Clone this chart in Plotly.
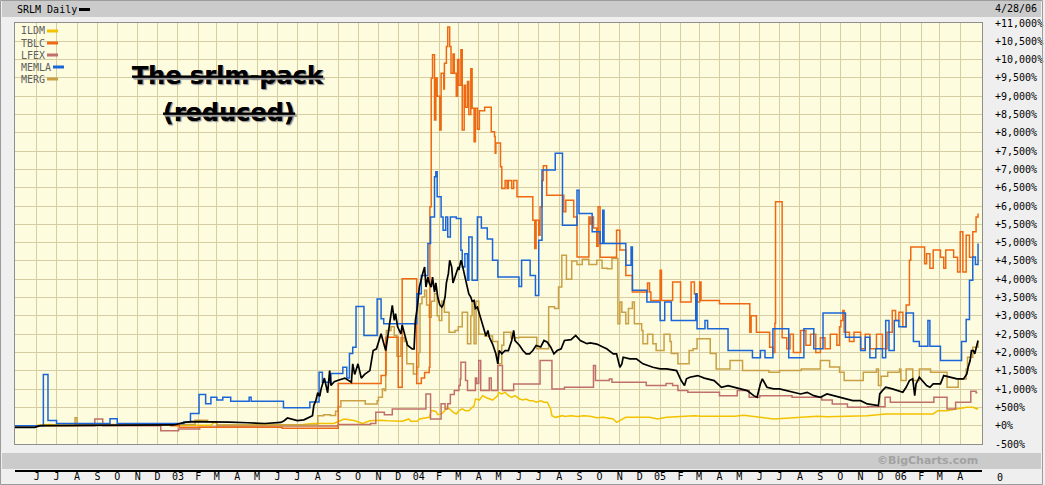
"""SRLM daily 4-year percent-change chart, BigCharts style."""

import pandas as pd
import plotly.graph_objects as go

# ---- data (percent change) ----
SRLM = [
    ("2002-04-29", -45), ("2002-05-29", -45), ("2002-06-06", 0), ("2002-12-04", 0),
    ("2002-12-26", 20), ("2003-01-01", 46), ("2003-01-11", 90), ("2003-01-21", 110),
    ("2003-02-25", 110), ("2003-03-20", 100), ("2003-04-17", 80), ("2003-05-13", 60),
    ("2003-06-06", 90), ("2003-06-11", 137), ("2003-06-16", 210), ("2003-07-01", 137),
    ("2003-07-11", 160), ("2003-07-19", 230), ("2003-07-24", 274), ("2003-07-26", 550),
    ("2003-07-29", 684), ("2003-08-01", 900), ("2003-08-04", 800), ("2003-08-06", 1000),
    ("2003-08-11", 1300), ("2003-08-16", 900), ("2003-08-19", 1506), ("2003-08-21", 1100),
    ("2003-08-26", 1200), ("2003-09-01", 1240), ("2003-09-11", 1300), ("2003-09-21", 1186),
    ("2003-09-23", 1689), ("2003-09-26", 1400), ("2003-10-01", 1689), ("2003-10-06", 1300),
    ("2003-10-11", 1400), ("2003-10-19", 1506), ("2003-10-24", 2053), ("2003-10-29", 2100),
    ("2003-11-05", 2510), ("2003-11-12", 2053), ("2003-11-17", 2700), ("2003-11-22", 3286),
    ("2003-11-25", 2875), ("2003-11-27", 3058), ("2003-11-30", 2700), ("2003-12-05", 2510),
    ("2003-12-07", 2750), ("2003-12-10", 2510), ("2003-12-15", 2200), ("2003-12-22", 2100),
    ("2003-12-25", 2100), ("2003-12-27", 2875), ("2003-12-30", 3240), ("2004-01-02", 3787),
    ("2004-01-05", 4061), ("2004-01-07", 4153), ("2004-01-10", 4335), ("2004-01-12", 3787),
    ("2004-01-15", 4061), ("2004-01-17", 3900), ("2004-01-20", 3787), ("2004-01-22", 4061),
    ("2004-01-25", 3650), ("2004-01-27", 3900), ("2004-01-30", 3500), ("2004-02-02", 3300),
    ("2004-02-05", 3240), ("2004-02-07", 3300), ("2004-02-10", 3514), ("2004-02-12", 3900),
    ("2004-02-15", 4153), ("2004-02-17", 4518), ("2004-02-20", 4335), ("2004-02-22", 3900),
    ("2004-02-25", 4061), ("2004-02-27", 4153), ("2004-03-01", 4335), ("2004-03-02", 4250),
    ("2004-03-05", 4518), ("2004-03-07", 4400), ("2004-03-10", 4153), ("2004-03-12", 4061),
    ("2004-03-15", 3787), ("2004-03-17", 3600), ("2004-03-20", 3514), ("2004-03-22", 3400),
    ("2004-03-25", 3420), ("2004-03-27", 3200), ("2004-03-30", 3240), ("2004-04-02", 3058),
    ("2004-04-04", 2950), ("2004-04-07", 2800), ("2004-04-10", 2555), ("2004-04-12", 2450),
    ("2004-04-15", 2600), ("2004-04-17", 2420), ("2004-04-22", 2230), ("2004-04-25", 2100),
    ("2004-04-27", 1963), ("2004-04-30", 1689), ("2004-05-02", 2053), ("2004-05-06", 1963),
    ("2004-05-11", 2053), ("2004-05-16", 2053), ("2004-05-21", 2327), ("2004-05-24", 2601),
    ("2004-05-26", 2327), ("2004-06-02", 2190), ("2004-06-07", 2053), ("2004-06-12", 1963),
    ("2004-06-17", 1963), ("2004-06-22", 2053), ("2004-06-27", 2190), ("2004-07-04", 2150),
    ("2004-07-09", 2327), ("2004-07-14", 2280), ("2004-07-19", 2150), ("2004-07-24", 1963),
    ("2004-07-29", 2053), ("2004-08-04", 2100), ("2004-08-09", 2327), ("2004-08-19", 2350),
    ("2004-08-24", 2418), ("2004-08-26", 2464), ("2004-09-02", 2327), ("2004-09-12", 2240),
    ("2004-09-17", 2260), ("2004-09-27", 2230), ("2004-10-07", 2145), ("2004-10-12", 2100),
    ("2004-10-22", 1963), ("2004-10-27", 1963), ("2004-11-01", 1597), ("2004-11-04", 1689),
    ("2004-11-06", 1870), ("2004-11-16", 1826), ("2004-11-26", 1826), ("2004-12-06", 1689),
    ("2004-12-21", 1597), ("2005-01-01", 1552), ("2005-01-11", 1552), ("2005-01-26", 1506),
    ("2005-02-02", 1232), ("2005-02-07", 1095), ("2005-02-10", 1280), ("2005-02-15", 1323),
    ("2005-02-27", 1369), ("2005-03-09", 1300), ("2005-03-24", 1232), ("2005-04-04", 1050),
    ("2005-04-14", 1095), ("2005-04-24", 1050), ("2005-05-13", 958), ("2005-05-23", 821),
    ("2005-05-28", 775), ("2005-06-02", 1141), ("2005-06-05", 1278), ("2005-06-12", 1050),
    ("2005-06-22", 1004), ("2005-07-01", 1004), ("2005-07-11", 958), ("2005-07-21", 912),
    ("2005-08-02", 867), ("2005-08-12", 912), ("2005-08-22", 821), ("2005-09-01", 775),
    ("2005-09-11", 867), ("2005-09-21", 821), ("2005-09-30", 775), ("2005-10-10", 730),
    ("2005-10-20", 684), ("2005-11-01", 684), ("2005-11-11", 594), ("2005-11-28", 548),
    ("2005-11-30", 867), ("2005-12-04", 958), ("2005-12-09", 1050), ("2005-12-19", 1004),
    ("2005-12-29", 958), ("2006-01-04", 912), ("2006-01-09", 1050), ("2006-01-14", 1232),
    ("2006-01-19", 1278), ("2006-01-22", 821), ("2006-01-24", 1141), ("2006-01-29", 1323),
    ("2006-02-09", 1095), ("2006-02-14", 1050), ("2006-02-19", 1141), ("2006-03-02", 1141),
    ("2006-03-07", 1369), ("2006-03-17", 1323), ("2006-03-27", 1278), ("2006-04-06", 1278),
    ("2006-04-11", 1415), ("2006-04-13", 1597), ("2006-04-16", 1780), ("2006-04-18", 2053),
    ("2006-04-21", 2053), ("2006-04-23", 1963), ("2006-04-26", 2145), ("2006-04-28", 2327),
]

ILDM = [
    ("2002-04-29", -45), ("2002-05-28", -45), ("2002-06-01", 10), ("2002-06-20", 30),
    ("2002-07-05", 10), ("2003-02-20", 10), ("2003-02-26", 100), ("2003-03-03", 10),
    ("2003-07-10", 30), ("2003-07-25", 63), ("2003-08-25", 63), ("2003-09-01", 118),
    ("2003-09-10", 183), ("2003-09-25", 140), ("2003-10-08", 63), ("2003-10-19", 137),
    ("2003-11-05", 150), ("2003-11-15", 137), ("2003-11-25", 137), ("2003-12-07", 120),
    ("2003-12-17", 183), ("2003-12-20", 120), ("2003-12-30", 120), ("2004-01-02", 183),
    ("2004-01-17", 228), ("2004-01-20", 420), ("2004-01-27", 390), ("2004-01-30", 300),
    ("2004-02-05", 330), ("2004-02-10", 420), ("2004-02-12", 502), ("2004-02-17", 460),
    ("2004-02-22", 370), ("2004-02-27", 320), ("2004-03-02", 410), ("2004-03-07", 460),
    ("2004-03-12", 410), ("2004-03-17", 410), ("2004-03-25", 550), ("2004-03-27", 730),
    ("2004-04-02", 700), ("2004-04-07", 821), ("2004-04-12", 770), ("2004-04-17", 730),
    ("2004-04-22", 700), ("2004-04-30", 821), ("2004-05-01", 912), ("2004-05-06", 870),
    ("2004-05-11", 912), ("2004-05-16", 821), ("2004-05-21", 775), ("2004-05-26", 821),
    ("2004-06-02", 730), ("2004-06-07", 700), ("2004-06-12", 730), ("2004-06-17", 684),
    ("2004-06-22", 684), ("2004-06-27", 640), ("2004-07-04", 680), ("2004-07-09", 640),
    ("2004-07-14", 640), ("2004-07-19", 456), ("2004-07-21", 274), ("2004-07-26", 228),
    ("2004-08-01", 250), ("2004-08-06", 274), ("2004-08-09", 250), ("2004-08-19", 270),
    ("2004-08-29", 250), ("2004-09-07", 270), ("2004-09-17", 260), ("2004-09-27", 220),
    ("2004-10-07", 228), ("2004-10-17", 200), ("2004-10-22", 183), ("2004-10-27", 90),
    ("2004-11-01", 137), ("2004-11-10", 228), ("2004-12-16", 228), ("2004-12-28", 183),
    ("2005-01-11", 228), ("2005-02-07", 246), ("2005-02-22", 274), ("2005-03-04", 260),
    ("2005-04-24", 260), ("2005-05-08", 283), ("2005-05-23", 246), ("2005-06-07", 210),
    ("2005-06-22", 183), ("2005-07-11", 200), ("2005-08-02", 228), ("2005-08-27", 260),
    ("2005-09-11", 246), ("2005-10-10", 260), ("2005-11-01", 250), ("2005-11-11", 274),
    ("2005-12-09", 320), ("2006-01-19", 330), ("2006-02-19", 320), ("2006-02-26", 411),
    ("2006-03-12", 411), ("2006-03-22", 440), ("2006-04-01", 470), ("2006-04-11", 502),
    ("2006-04-21", 502), ("2006-04-26", 456), ("2006-04-28", 484),
]

TBLC = [
    ("2002-12-20", 0), ("2003-01-03", -40), ("2003-06-08", -70), ("2003-09-01", 1150),
    ("2003-11-05", 1369), ("2003-11-12", 2418), ("2003-12-01", 1050), ("2003-12-07", 4017),
    ("2003-12-29", 1150), ("2004-01-05", 1300), ("2004-01-10", 1450), ("2004-01-17", 1597),
    ("2004-01-18", 5978), ("2004-01-20", 9493), ("2004-01-22", 10131), ("2004-01-25", 8351),
    ("2004-01-27", 9500), ("2004-01-29", 9000), ("2004-02-02", 8077), ("2004-02-04", 9630),
    ("2004-02-08", 9200), ("2004-02-09", 9900), ("2004-02-12", 10358), ("2004-02-14", 10889),
    ("2004-02-17", 10358), ("2004-02-19", 9630), ("2004-02-22", 10150), ("2004-02-24", 9630),
    ("2004-02-27", 9000), ("2004-02-29", 10000), ("2004-03-02", 9300), ("2004-03-05", 10268),
    ("2004-03-07", 8077), ("2004-03-10", 9300), ("2004-03-12", 8700), ("2004-03-15", 9400),
    ("2004-03-17", 8500), ("2004-03-20", 9750), ("2004-03-22", 8671), ("2004-03-25", 7757),
    ("2004-03-27", 8671), ("2004-03-30", 8100), ("2004-04-02", 8600), ("2004-04-10", 8698),
    ("2004-04-20", 8031), ("2004-04-25", 7900), ("2004-04-26", 7439), ("2004-04-27", 7721),
    ("2004-05-04", 7072), ("2004-05-06", 6481), ("2004-05-11", 6700), ("2004-05-14", 6481),
    ("2004-05-16", 6700), ("2004-05-21", 6481), ("2004-05-24", 6700), ("2004-05-29", 6251),
    ("2004-06-22", 5613), ("2004-06-25", 4838), ("2004-06-27", 5613), ("2004-07-01", 5200),
    ("2004-07-03", 5978), ("2004-07-06", 6700), ("2004-07-08", 7100), ("2004-07-13", 6297),
    ("2004-08-08", 5841), ("2004-08-11", 6160), ("2004-08-23", 5700), ("2004-08-28", 4609),
    ("2004-09-15", 5703), ("2004-09-17", 5500), ("2004-09-20", 5703), ("2004-09-22", 5400),
    ("2004-09-27", 4900), ("2004-09-29", 5978), ("2004-10-02", 4600), ("2004-10-27", 5339),
    ("2004-11-01", 4800), ("2004-11-10", 4100), ("2004-11-20", 3650), ("2004-12-13", 3900),
    ("2004-12-16", 3650), ("2004-12-18", 3423), ("2005-01-01", 4244), ("2005-01-03", 3423),
    ("2005-01-20", 3924), ("2005-02-01", 3380), ("2005-02-17", 3924), ("2005-02-22", 3600),
    ("2005-02-26", 3380), ("2005-03-02", 3924), ("2005-03-04", 3423), ("2005-04-01", 3332),
    ("2005-05-17", 2555), ("2005-05-19", 3000), ("2005-05-27", 2555), ("2005-06-16", 2144),
    ("2005-06-21", 2000), ("2005-06-24", 2800), ("2005-06-25", 6114), ("2005-07-05", 2400),
    ("2005-07-12", 2100), ("2005-07-17", 2500), ("2005-07-22", 2000), ("2005-08-02", 2600),
    ("2005-08-10", 2200), ("2005-08-17", 2500), ("2005-08-25", 2000), ("2005-09-01", 2400),
    ("2005-09-08", 2100), ("2005-09-16", 2500), ("2005-09-26", 2200), ("2005-09-30", 2700),
    ("2005-10-02", 2875), ("2005-10-05", 3149), ("2005-10-07", 2555), ("2005-10-15", 2300),
    ("2005-10-22", 2555), ("2005-11-01", 2100), ("2005-11-08", 2500), ("2005-11-15", 2100),
    ("2005-11-25", 2500), ("2005-12-04", 2100), ("2005-12-11", 2555), ("2005-12-19", 3149),
    ("2005-12-24", 2875), ("2005-12-29", 3100), ("2006-01-04", 2700), ("2006-01-09", 3300),
    ("2006-01-14", 4518), ("2006-01-16", 4883), ("2006-02-06", 4427), ("2006-02-09", 4700),
    ("2006-02-14", 4300), ("2006-02-19", 4800), ("2006-03-02", 4600), ("2006-03-07", 4300),
    ("2006-03-10", 4800), ("2006-03-22", 4600), ("2006-03-28", 4200), ("2006-04-01", 5300),
    ("2006-04-05", 4200), ("2006-04-10", 5202), ("2006-04-15", 4600), ("2006-04-20", 5300),
    ("2006-04-25", 5703), ("2006-04-28", 5796),
]

LFEX = [
    ("2002-04-29", 0), ("2002-08-28", 183), ("2002-09-09", 0), ("2002-12-06", -137),
    ("2003-01-02", -90), ("2003-02-03", -40), ("2003-03-01", -10), ("2003-09-01", 30),
    ("2003-10-20", 60), ("2003-10-28", 365), ("2003-11-10", 300), ("2003-11-22", 456),
    ("2004-01-12", 867), ("2004-01-19", 183), ("2004-02-04", 600), ("2004-02-10", 456),
    ("2004-02-14", 600), ("2004-02-18", 850), ("2004-02-24", 958), ("2004-03-02", 1100),
    ("2004-03-04", 1278), ("2004-03-05", 1734), ("2004-03-12", 1232), ("2004-03-15", 958),
    ("2004-03-27", 1300), ("2004-03-29", 1150), ("2004-04-01", 1780), ("2004-04-04", 958),
    ("2004-04-17", 1300), ("2004-04-20", 958), ("2004-04-30", 1643), ("2004-05-07", 958),
    ("2004-05-24", 1141), ("2004-07-03", 1780), ("2004-07-21", 1004), ("2004-08-09", 1050),
    ("2004-09-22", 1643), ("2004-09-25", 1232), ("2004-10-16", 1278), ("2004-10-20", 1186),
    ("2004-12-11", 1095), ("2005-01-10", 1150), ("2005-01-20", 1095), ("2005-01-28", 958),
    ("2005-02-12", 912), ("2005-04-01", 821), ("2005-04-28", 958), ("2005-05-16", 775),
    ("2005-06-01", 821), ("2005-07-20", 775), ("2005-09-03", 700), ("2005-09-19", 594),
    ("2005-10-12", 502), ("2005-11-12", 520), ("2005-12-08", 775), ("2005-12-16", 639),
    ("2006-02-20", 775), ("2006-03-12", 456), ("2006-03-25", 639), ("2006-04-17", 940),
    ("2006-04-25", 900), ("2006-04-27", 900),
]

MEMLA = [
    ("2002-04-29", 0), ("2002-06-11", 1400), ("2002-06-18", 140), ("2002-07-01", 60),
    ("2002-09-20", 190), ("2002-10-01", 60), ("2003-01-10", 100), ("2003-01-20", 330),
    ("2003-02-02", 850), ("2003-02-12", 600), ("2003-02-20", 780), ("2003-03-01", 700),
    ("2003-03-10", 775), ("2003-03-22", 666), ("2003-04-19", 775), ("2003-04-22", 666),
    ("2003-06-10", 493), ("2003-07-20", 650), ("2003-08-03", 1460), ("2003-08-08", 1186),
    ("2003-08-21", 1423), ("2003-09-08", 1597), ("2003-09-14", 1300), ("2003-09-18", 1970),
    ("2003-09-23", 2145), ("2003-09-28", 3258), ("2003-10-10", 2464), ("2003-10-30", 3459),
    ("2003-11-05", 2920), ("2003-11-09", 2784), ("2003-12-29", 3605), ("2004-01-05", 4100),
    ("2004-01-15", 4975), ("2004-01-19", 5703), ("2004-01-25", 6800), ("2004-01-27", 6936),
    ("2004-01-29", 6251), ("2004-02-04", 5703), ("2004-02-07", 5339), ("2004-02-11", 5703),
    ("2004-02-14", 5157), ("2004-02-18", 5703), ("2004-02-27", 5659), ("2004-03-05", 4791),
    ("2004-03-07", 4335), ("2004-03-11", 4700), ("2004-03-15", 3970), ("2004-03-17", 5157),
    ("2004-03-22", 3970), ("2004-03-30", 5703), ("2004-04-05", 5400), ("2004-04-14", 5100),
    ("2004-04-22", 4518), ("2004-04-30", 4061), ("2004-06-01", 3800), ("2004-06-05", 4518),
    ("2004-06-18", 4100), ("2004-06-26", 3559), ("2004-07-01", 5065), ("2004-07-06", 6982),
    ("2004-07-26", 7439), ("2004-08-06", 5476), ("2004-08-28", 6434), ("2004-08-31", 5796),
    ("2004-09-20", 5300), ("2004-10-02", 4975), ("2004-10-06", 5887), ("2004-10-08", 4975),
    ("2004-11-10", 4381), ("2004-11-18", 4883), ("2004-11-20", 3697), ("2004-12-12", 3377),
    ("2005-01-01", 2875), ("2005-01-08", 3377), ("2005-01-18", 2875), ("2005-02-24", 3605),
    ("2005-02-26", 2647), ("2005-03-10", 2875), ("2005-03-14", 2647), ("2005-04-14", 2053),
    ("2005-05-21", 1853), ("2005-06-02", 2053), ("2005-06-09", 1853), ("2005-06-21", 2647),
    ("2005-07-15", 1853), ("2005-08-07", 2647), ("2005-08-22", 2100), ("2005-09-05", 3075),
    ("2005-10-09", 2418), ("2005-11-01", 2053), ("2005-11-08", 2418), ("2005-11-15", 1853),
    ("2005-11-24", 2100), ("2005-12-04", 1853), ("2005-12-09", 2875), ("2005-12-14", 2053),
    ("2005-12-22", 2875), ("2005-12-29", 2700), ("2006-01-09", 3075), ("2006-01-20", 2300),
    ("2006-01-29", 2170), ("2006-02-11", 2875), ("2006-02-14", 2170), ("2006-03-02", 1780),
    ("2006-04-03", 2300), ("2006-04-10", 2900), ("2006-04-15", 3970), ("2006-04-20", 4609),
    ("2006-04-24", 4400), ("2006-04-28", 4975),
]

MERG = [
    ("2002-04-29", 0), ("2002-07-29", 220), ("2002-08-01", 30), ("2003-01-27", 150),
    ("2003-02-15", 100), ("2003-03-01", 20), ("2003-08-01", 274), ("2003-08-10", 300),
    ("2003-08-20", 280), ("2003-08-28", 392), ("2003-09-01", 520), ("2003-09-05", 684),
    ("2003-10-12", 594), ("2003-10-30", 684), ("2003-11-01", 775), ("2003-11-07", 1004),
    ("2003-11-10", 958), ("2003-11-12", 1415), ("2003-11-13", 2601), ("2003-11-20", 2700),
    ("2003-11-25", 2464), ("2003-11-29", 1900), ("2003-12-05", 2400), ("2003-12-10", 2300),
    ("2003-12-14", 1689), ("2003-12-24", 1415), ("2003-12-29", 1600), ("2004-01-01", 2000),
    ("2004-01-03", 3332), ("2004-01-06", 3514), ("2004-01-10", 3700), ("2004-01-13", 3300),
    ("2004-01-17", 2965), ("2004-01-20", 3400), ("2004-01-25", 3605), ("2004-01-29", 3000),
    ("2004-02-01", 2875), ("2004-02-05", 3400), ("2004-02-09", 3100), ("2004-02-16", 2555),
    ("2004-02-25", 2600), ("2004-03-01", 2700), ("2004-03-07", 3100), ("2004-03-15", 2237),
    ("2004-03-20", 3000), ("2004-03-22", 3377), ("2004-03-25", 2237), ("2004-03-28", 3400),
    ("2004-04-01", 2500), ("2004-04-10", 2450), ("2004-04-22", 2300), ("2004-04-30", 1689),
    ("2004-05-06", 2200), ("2004-05-09", 2555), ("2004-05-20", 2400), ("2004-06-01", 2418),
    ("2004-06-28", 2100), ("2004-07-16", 3250), ("2004-07-25", 3200), ("2004-07-31", 3787),
    ("2004-08-05", 4655), ("2004-08-12", 4000), ("2004-08-20", 4500), ("2004-08-28", 4400),
    ("2004-09-05", 4550), ("2004-09-15", 4400), ("2004-09-27", 4518), ("2004-10-05", 4300),
    ("2004-10-13", 4290), ("2004-10-20", 4564), ("2004-10-29", 2784), ("2004-11-01", 3377),
    ("2004-11-04", 3100), ("2004-11-10", 2784), ("2004-11-14", 3200), ("2004-11-20", 3377),
    ("2004-11-23", 2784), ("2004-12-04", 2601), ("2004-12-06", 2237), ("2004-12-13", 2500),
    ("2004-12-21", 2237), ("2004-12-26", 2053), ("2005-01-07", 2500), ("2005-01-16", 2300),
    ("2005-01-18", 1970), ("2005-01-28", 1689), ("2005-02-14", 2053), ("2005-02-20", 2100),
    ("2005-02-26", 2373), ("2005-03-18", 1970), ("2005-03-27", 1552), ("2005-04-17", 1780),
    ("2005-05-06", 1506), ("2005-06-15", 1460), ("2005-07-01", 1506), ("2005-08-03", 1552),
    ("2005-09-01", 1780), ("2005-09-15", 1600), ("2005-09-30", 1460), ("2005-10-07", 1232),
    ("2005-11-05", 1460), ("2005-11-25", 1552), ("2005-11-28", 1095), ("2005-12-02", 1350),
    ("2005-12-12", 1460), ("2005-12-30", 1552), ("2006-01-01", 1232), ("2006-01-09", 1552),
    ("2006-01-19", 1232), ("2006-01-29", 1552), ("2006-02-15", 1460), ("2006-03-12", 1050),
    ("2006-03-29", 1278), ("2006-04-10", 1552), ("2006-04-12", 1870), ("2006-04-20", 2145),
    ("2006-04-28", 2300),
]

X_TICK_LABELS = [
    "J", "J", "A", "S", "O", "N", "D",
    "03", "F", "M", "A", "M", "J", "J", "A", "S", "O", "N", "D",
    "04", "F", "M", "A", "M", "J", "J", "A", "S", "O", "N", "D",
    "05", "F", "M", "A", "M", "J", "J", "A", "S", "O", "N", "D",
    "06", "F", "M", "A",
]
Y_TICK_LABELS = [
    "-500%", "+0%", "+500%", "+1,000%", "+1,500%", "+2,000%", "+2,500%", "+3,000%",
    "+3,500%", "+4,000%", "+4,500%", "+5,000%", "+5,500%", "+6,000%", "+6,500%",
    "+7,000%", "+7,500%", "+8,000%", "+8,500%", "+9,000%", "+9,500%", "+10,000%",
    "+10,500%", "+11,000%",
]

# ---- styling ----
W, H = 1045, 485
ML, MR, MT, MB = 15, 63, 23, 41
PW, PH = W - ML - MR, H - MT - MB
MONO = "DejaVu Sans Mono"
PAPER = "#efefef"
BAND = "#cbcbcb"
PLOT_BG = "#fefcdf"
GRID = "#d6cea2"

# name, data, colour, shape (drawn bottom to top)
SERIES = [
    ("ILDM", ILDM, "#f2c200", "linear"),
    ("LFEX", LFEX, "#c0706a", "hv"),
    ("MERG", MERG, "#c9a043", "hv"),
    ("TBLC", TBLC, "#ee6a12", "hv"),
    ("MEMLA", MEMLA, "#1a66d8", "hv"),
    ("SRLM", SRLM, "#000000", "linear"),
]
LEGEND = [("ILDM", "#f2c200", 58), ("TBLC", "#ee6a12", 58), ("LFEX", "#c0706a", 58),
          ("MEMLA", "#1a66d8", 64), ("MERG", "#c9a043", 58)]


def px(x):
    return (x - ML) / PW


def py(y):
    return (H - MB - y) / PH


fig = go.Figure()
for name, data, color, shape in SERIES:
    dates = [d for d, _ in data]
    vals = [v for _, v in data]
    fig.add_trace(
        go.Scatter(
            x=dates, y=vals, mode="lines", name=name,
            line={"color": color, "width": 1.7 if name == "SRLM" else 1.5, "shape": shape},
            showlegend=False, hoverinfo="skip",
        )
    )

shapes = [
    # header band and footer band
    dict(type="rect", xref="paper", yref="paper", x0=px(2), x1=px(1041), y0=py(17), y1=py(0),
         fillcolor=BAND, line={"width": 0}),
    dict(type="rect", xref="paper", yref="paper", x0=px(2), x1=px(1041), y0=py(469), y1=py(453),
         fillcolor=BAND, line={"width": 0}),
    dict(type="line", xref="paper", yref="paper", x0=0, x1=1, y0=py(471), y1=py(471),
         line={"color": "#000000", "width": 2}),
    dict(type="rect", xref="paper", yref="paper", x0=px(0.5), x1=px(1042.5), y0=py(484.5), y1=py(0.5),
         line={"color": "#9c9c9c", "width": 1}),
    # SRLM swatch in header
    dict(type="line", xref="paper", yref="paper", x0=px(79), x1=px(90), y0=py(9.5), y1=py(9.5),
         line={"color": "#000000", "width": 3}),
]
annotations = [
    dict(text="SRLM Daily", x=px(15), y=py(10), xanchor="left", yanchor="middle",
         font={"family": MONO, "size": 10, "color": "#000000"}),
    dict(text="4/28/06", x=px(993), y=py(9), xanchor="left", yanchor="middle",
         font={"family": MONO, "size": 10, "color": "#000000"}),
    dict(text="©BigCharts.com", x=px(980), y=py(461), xanchor="right", yanchor="middle",
         font={"family": "DejaVu Sans", "size": 11, "color": "#a2a2a2", "weight": "bold"}),
    dict(text="0", x=px(995), y=py(477), xanchor="left", yanchor="middle",
         font={"family": MONO, "size": 10, "color": "#000000"}),
    dict(text="The srlm-pack", x=px(228), y=py(76), xanchor="center", yanchor="middle",
         font={"family": "DejaVu Sans", "size": 24, "color": "#000000", "weight": "bold",
               "lineposition": "through", "shadow": "1px 1px 1px #9a9a9a"}),
    dict(text="(reduced)", x=px(229), y=py(113), xanchor="center", yanchor="middle",
         font={"family": "DejaVu Sans", "size": 24, "color": "#000000", "weight": "bold",
               "lineposition": "through", "shadow": "1px 1px 1px #9a9a9a"}),
]
for i, (label, color, x_end) in enumerate(LEGEND):
    yy = 31 + i * 12
    annotations.append(
        dict(text=label, x=px(19), y=py(yy), xanchor="left", yanchor="middle",
             font={"family": MONO, "size": 10, "color": "#606060"})
    )
    shapes.append(
        dict(type="line", xref="paper", yref="paper", x0=px(x_end - 11), x1=px(x_end),
             y0=py(yy), y1=py(yy), line={"color": color, "width": 3})
    )
for a in annotations:
    a.update(xref="paper", yref="paper", showarrow=False)

fig.update_layout(
    template="none",
    width=W, height=H, autosize=False,
    margin={"l": ML, "r": MR, "t": MT, "b": MB, "pad": 0, "autoexpand": False},
    paper_bgcolor=PAPER, plot_bgcolor=PLOT_BG,
    font={"family": MONO, "size": 10, "color": "#000000"},
    shapes=shapes, annotations=annotations, showlegend=False,
)
fig.update_xaxes(
    type="date", range=["2002-04-29", "2006-05-04"], automargin=False,
    tickvals=pd.date_range("2002-06-01", periods=len(X_TICK_LABELS), freq="MS"),
    ticktext=X_TICK_LABELS, ticks="", ticklabelstandoff=23,
    showgrid=True, gridcolor=GRID, gridwidth=1,
    showline=True, mirror=True, linecolor="#8e8e8e", linewidth=1,
    tickfont={"family": MONO, "size": 10, "color": "#000000"}, zeroline=False,
)
fig.update_yaxes(
    side="right", range=[-500, 11000], automargin=False,
    tickvals=list(range(-500, 11001, 500)), ticktext=Y_TICK_LABELS,
    ticks="", ticklabelstandoff=10,
    showgrid=True, gridcolor=GRID, gridwidth=1,
    showline=True, mirror=True, linecolor="#8e8e8e", linewidth=1,
    tickfont={"family": MONO, "size": 10, "color": "#000000"}, zeroline=False,
)

fig.write_html(
    "out.html",
    config={"displayModeBar": False},
    post_script="document.body.style.margin='0px';document.body.style.overflow='hidden';",
)
